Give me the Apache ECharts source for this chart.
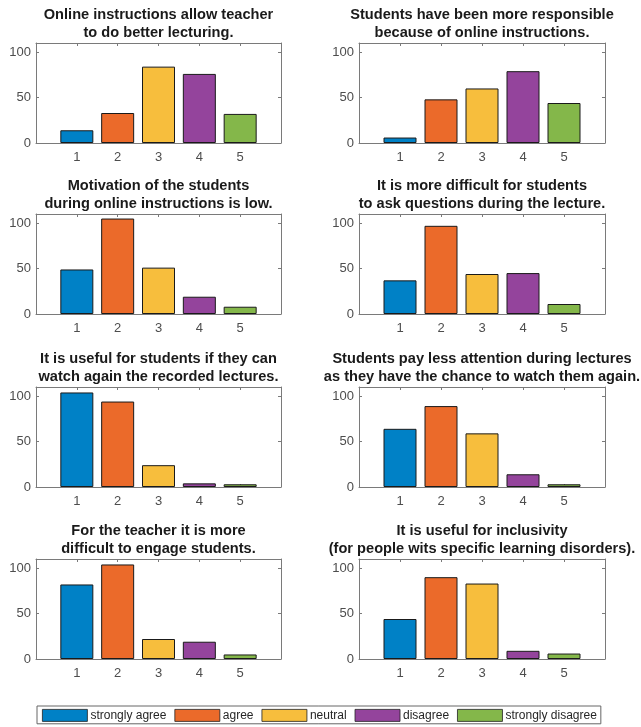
<!DOCTYPE html>
<html>
<head>
<meta charset="utf-8">
<script src="https://cdn.jsdelivr.net/npm/echarts@6/dist/echarts.min.js"></script>
<style>html,body{margin:0;padding:0;background:#fff}#c{width:641px;height:727px}</style>
</head>
<body>
<div id="c"></div>
<script>
const categories = ['strongly agree', 'agree', 'neutral', 'disagree', 'strongly disagree'];
const xTicks = [1, 2, 3, 4, 5];
const yTicks = [0, 50, 100];
const titles = [
  'Online instructions allow teacher\nto do better lecturing.',
  'Students have been more responsible\nbecause of online instructions.',
  'Motivation of the students\nduring online instructions is low.',
  'It is more difficult for students\nto ask questions during the lecture.',
  'It is useful for students if they can\nwatch again the recorded lectures.',
  'Students pay less attention during lectures\nas they have the chance to watch them again.',
  'For the teacher it is more\ndifficult to engage students.',
  'It is useful for inclusivity\n(for people wits specific learning disorders).'
];
const q1 = [14, 33, 84, 76, 32];
const q2 = [6, 48, 60, 79, 44];
const q3 = [49, 105, 51, 19, 8];
const q4 = [37, 97, 44, 45, 11];
const q5 = [104, 94, 24, 4, 3];
const q6 = [64, 89, 59, 14, 3];
const q7 = [82, 104, 22, 19, 5];
const q8 = [44, 90, 83, 9, 6];
const values = [q1, q2, q3, q4, q5, q6, q7, q8];
const colors = ['#0081C6', '#EB6A2A', '#F7BE3D', '#94449C', '#84B74A'];

const colLeft = [36, 359];
const colWidth = [245, 246];
const rowTop = [43, 214, 387, 559];
const plotH = 100;
const boxColor = '#7a7a7a';
const labelColor = '#4d4d4d';
const font = 'Liberation Sans, Arial, sans-serif';

const grid = [], xAxis = [], yAxis = [], series = [], title = [];
values.forEach((vals, g) => {
  const col = g % 2, row = Math.floor(g / 2);
  grid.push({left: colLeft[col], top: rowTop[row], width: colWidth[col], height: plotH, containLabel: false});
  title.push({
    text: titles[g], left: colLeft[col] + colWidth[col] / 2, top: rowTop[row] - 37,
    textAlign: 'center', padding: 0,
    textStyle: {fontFamily: font, fontSize: 14.6, fontWeight: 'bold', color: '#1a1a1a', lineHeight: 18}
  });
  const axBase = {
    gridIndex: g, type: 'value', min: 0, max: 6, interval: 1,
    axisLine: {show: true, onZero: false, lineStyle: {color: boxColor, width: 1}},
    axisTick: {show: true, inside: true, length: 3, customValues: xTicks, lineStyle: {color: boxColor}},
    splitLine: {show: false}
  };
  xAxis.push(Object.assign({}, axBase, {
    position: 'bottom',
    axisLabel: {show: true, customValues: xTicks, margin: 8, fontFamily: font, fontSize: 13, color: labelColor}
  }));
  xAxis.push(Object.assign({}, axBase, {position: 'top', axisLabel: {show: false}}));
  const ayBase = {
    gridIndex: g, type: 'value', min: 0, max: 110, interval: 50,
    axisLine: {show: true, onZero: false, lineStyle: {color: boxColor, width: 1}},
    axisTick: {show: true, inside: true, length: 3, customValues: yTicks, lineStyle: {color: boxColor}},
    splitLine: {show: false}
  };
  yAxis.push(Object.assign({}, ayBase, {
    position: 'left',
    axisLabel: {show: true, customValues: yTicks, margin: 5, fontFamily: font, fontSize: 13, color: labelColor}
  }));
  yAxis.push(Object.assign({}, ayBase, {position: 'right', axisLabel: {show: false}}));
  categories.forEach((name, i) => {
    series.push({
      type: 'bar', name: name, xAxisIndex: g * 2, yAxisIndex: g * 2, stack: 'g' + g,
      barWidth: 33, data: [[xTicks[i], vals[i]]],
      itemStyle: {color: colors[i], borderColor: '#1a1a1a', borderWidth: 1},
      emphasis: {disabled: true}, animation: false
    });
  });
});

const chart = echarts.init(document.getElementById('c'), null, {renderer: 'canvas'});
chart.setOption({
  backgroundColor: '#fff',
  animation: false,
  title: title,
  grid: grid, xAxis: xAxis, yAxis: yAxis, series: series,
  legend: {
    data: categories, left: 37, top: 706, orient: 'horizontal',
    itemWidth: 45, itemHeight: 12, itemGap: 8,
    padding: [3, 4, 2, 5], borderColor: '#666', borderWidth: 1,
    icon: 'rect', selectedMode: false,
    itemStyle: {borderColor: '#222', borderWidth: 0.8},
    textStyle: {fontFamily: font, fontSize: 12, color: '#262626', padding: [0, 0, 0, -2]}
  }
});
</script>
</body>
</html>
